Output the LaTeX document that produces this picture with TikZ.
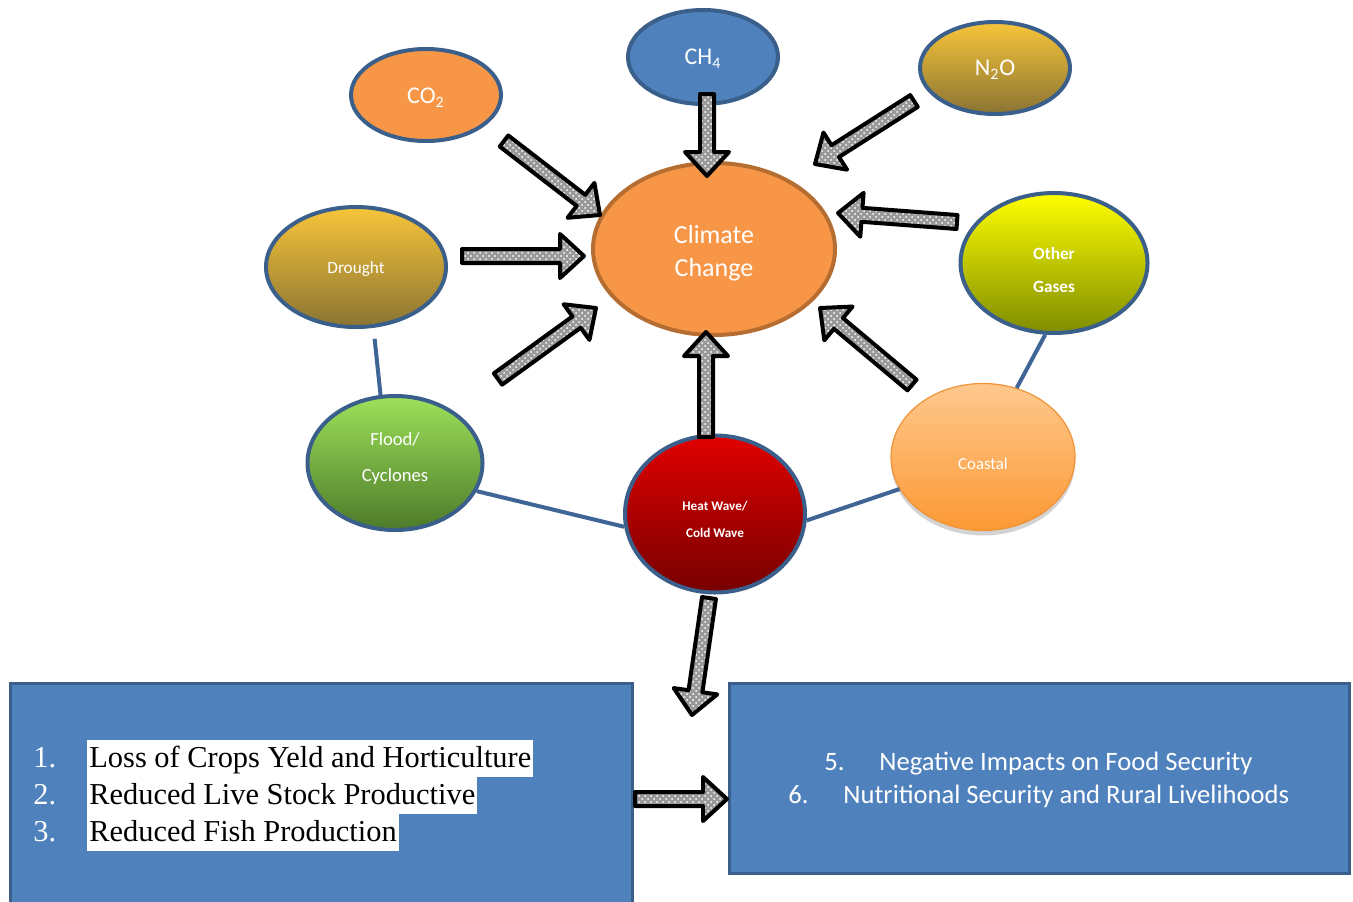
\documentclass[tikz,border=0pt]{standalone}
\usepackage{fontspec}
\setmainfont{Carlito}
\newfontfamily\timesf{Liberation Serif}
\usetikzlibrary{shapes.geometric,patterns,shadows,calc}
\definecolor{bdr}{HTML}{3A5F8B}
\definecolor{lnk}{HTML}{3F6496}
\definecolor{boxc}{HTML}{4F81BD}
\definecolor{orng}{HTML}{F79646}
\definecolor{orngd}{HTML}{B66D31}
\definecolor{goldt}{HTML}{F8C53A}
\definecolor{goldb}{HTML}{8A7433}
\definecolor{yelt}{HTML}{FFFF00}
\definecolor{yelb}{HTML}{7F8C00}
\definecolor{grnt}{HTML}{9DE15A}
\definecolor{grnb}{HTML}{4D7A2A}
\definecolor{redt}{HTML}{E10000}
\definecolor{redb}{HTML}{760000}
\definecolor{cot}{HTML}{FFC88E}
\definecolor{cob}{HTML}{FF9A33}
\tikzset{
  bub/.style={ellipse, draw=bdr, line width=2pt, inner sep=0pt},
  lbl/.style={text=white, align=center, inner sep=0pt},
  link/.style={draw=lnk, line width=2pt},
  barrow/.style={draw=black, line width=2pt, line join=round, preaction={fill=black!40}, pattern=crosshatch dots, pattern color=white},
  bigbox/.style={rectangle, draw=bdr, line width=1.5pt, fill=boxc},
  hl/.style={fill=white, text=black, inner xsep=1pt, inner ysep=0pt, text height=13.5pt, text depth=5pt, anchor=base west, font=\timesf\fontsize{15.2}{18}\selectfont},
  lnum/.style={text=white, anchor=base west, inner sep=0pt, font=\timesf\fontsize{15.2}{18}\selectfont},
  rtxt/.style={text=white, anchor=base west, inner sep=0pt, font=\fontsize{13.3}{16}\selectfont}
}
\newcommand\blockarrow[2]{%
  \draw[barrow] let \p1=(#1), \p2=(#2), \n1={atan2(\y2-\y1,\x2-\x1)}, \n2={veclen(\x2-\x1,\y2-\y1)} in
    [shift={(\p1)}, rotate=\n1]
    (0pt,-3.5pt) -- ({(\n2-12)*1pt},-3.5pt) -- ({(\n2-12)*1pt},-11pt) -- ({\n2*1pt},0pt)
    -- ({(\n2-12)*1pt},11pt) -- ({(\n2-12)*1pt},3.5pt) -- (0pt,3.5pt) -- cycle;}
\begin{document}
\begin{tikzpicture}[x=0.5pt,y=-0.5pt]
\useasboundingbox (0,0) rectangle (1353,901);
% boxes
\node[bigbox, minimum width=311pt, minimum height=120pt] (lbox) at (321,803) {};
\node[bigbox, minimum width=310pt, minimum height=95pt] (rbox) at (1039,778) {};
% ellipses
\node[bub, fill=orng, minimum width=75pt, minimum height=46pt,
  label={[lbl, yshift=-1.5pt, font=\fontsize{12}{14}\selectfont]center:CO\textsubscript{2}}] (co2) at (426,95) {};
\node[bub, fill=boxc, minimum width=75pt, minimum height=47pt,
  label={[lbl, yshift=-1pt, font=\fontsize{12}{14}\selectfont]center:CH\textsubscript{4}}] (ch4) at (703,57) {};
\node[bub, top color=goldt, bottom color=goldb, minimum width=75pt, minimum height=46pt,
  label={[lbl, yshift=-1pt, font=\fontsize{12}{14}\selectfont]center:N\textsubscript{2}O}] (n2o) at (995,68) {};
\node[bub, draw=orngd, fill=orng, minimum width=121pt, minimum height=86pt,
  label={[lbl, yshift=-2pt, font=\fontsize{13}{16.5}\selectfont]center:Climate\\Change}] (cc) at (714,249) {};
\node[bub, top color=goldt, bottom color=goldb, minimum width=90pt, minimum height=60pt,
  label={[lbl, yshift=-1pt, font=\fontsize{8.6}{10}\selectfont]center:Drought}] (drought) at (356,267) {};
\node[bub, top color=yelt, bottom color=yelb, minimum width=93.5pt, minimum height=70pt,
  label={[lbl, yshift=-3.5pt, font=\bfseries\fontsize{8.6}{16.5}\selectfont]center:Other\\Gases}] (other) at (1054,263) {};
\node[bub, top color=grnt, bottom color=grnb, minimum width=87.5pt, minimum height=67pt,
  label={[lbl, yshift=2pt, font=\fontsize{9.3}{18}\selectfont]center:Flood/\\Cyclones}] (flood) at (395,463) {};
\node[bub, top color=redt, bottom color=redb, minimum width=90pt, minimum height=78.5pt,
  label={[lbl, yshift=-2.5pt, font=\bfseries\fontsize{6.6}{13.5}\selectfont]center:Heat Wave/\\Cold Wave}] (heat) at (715,514) {};
\node[bub, draw=cob!75!brown, line width=0.6pt, top color=cot, bottom color=cob!95!brown, minimum width=92pt, minimum height=73.5pt,
  drop shadow={shadow xshift=0pt, shadow yshift=-2.5pt, opacity=0.35},
  label={[lbl, yshift=-3.5pt, font=\fontsize{8.4}{10}\selectfont]center:Coastal}] (coastal) at (983,457) {};
% blue links
\draw[link, shorten <=5.5pt] (drought.-74) -- (flood.102);
\draw[link] (flood.-19) -- (heat.188);
\draw[link] (heat.-4) -- (coastal.201);
\draw[link] (coastal.64) -- (other.263);
% arrow end points
\coordinate (a1s) at (504,141); \coordinate (a1e) at (600,215);
\coordinate (a2s) at (707,94);  \coordinate (a2e) at (707,176);
\coordinate (a3s) at (914,101); \coordinate (a3e) at (815,164);
\coordinate (a4s) at (957,222); \coordinate (a4e) at (838,213);
\coordinate (a5s) at (462,256); \coordinate (a5e) at (584,256);
\coordinate (a6s) at (498,379); \coordinate (a6e) at (596,308);
\coordinate (a7s) at (706,437); \coordinate (a7e) at (706,332);
\coordinate (a8s) at (912,385); \coordinate (a8e) at (820,308);
\coordinate (a9s) at (709,598); \coordinate (a9e) at (692,715);
\coordinate (a10s) at (635,799); \coordinate (a10e) at (727,799);
\blockarrow{a1s}{a1e}
\blockarrow{a2s}{a2e}
\blockarrow{a3s}{a3e}
\blockarrow{a4s}{a4e}
\blockarrow{a5s}{a5e}
\blockarrow{a6s}{a6e}
\blockarrow{a7s}{a7e}
\blockarrow{a8s}{a8e}
\blockarrow{a9s}{a9e}
\blockarrow{a10s}{a10e}
% left box text
\node[lnum] (n1) at (33,767) {1.};
\node[lnum] (n2) at (33,804) {2.};
\node[lnum] (n3) at (33,841) {3.};
\node[hl] (t1) at (87,767) {Loss of Crops Yeld and Horticulture};
\node[hl] (t2) at (87,804) {Reduced Live Stock Productive};
\node[hl] (t3) at (87,841) {Reduced Fish Production};
% right box text
\node[rtxt] (n5) at (824,770) {5.};
\node[rtxt] (t5) at (879,770) {Negative Impacts on Food Security};
\node[rtxt] (n6) at (788,803) {6.};
\node[rtxt] (t6) at (843,803) {Nutritional Security and Rural Livelihoods};
\end{tikzpicture}
\end{document}
